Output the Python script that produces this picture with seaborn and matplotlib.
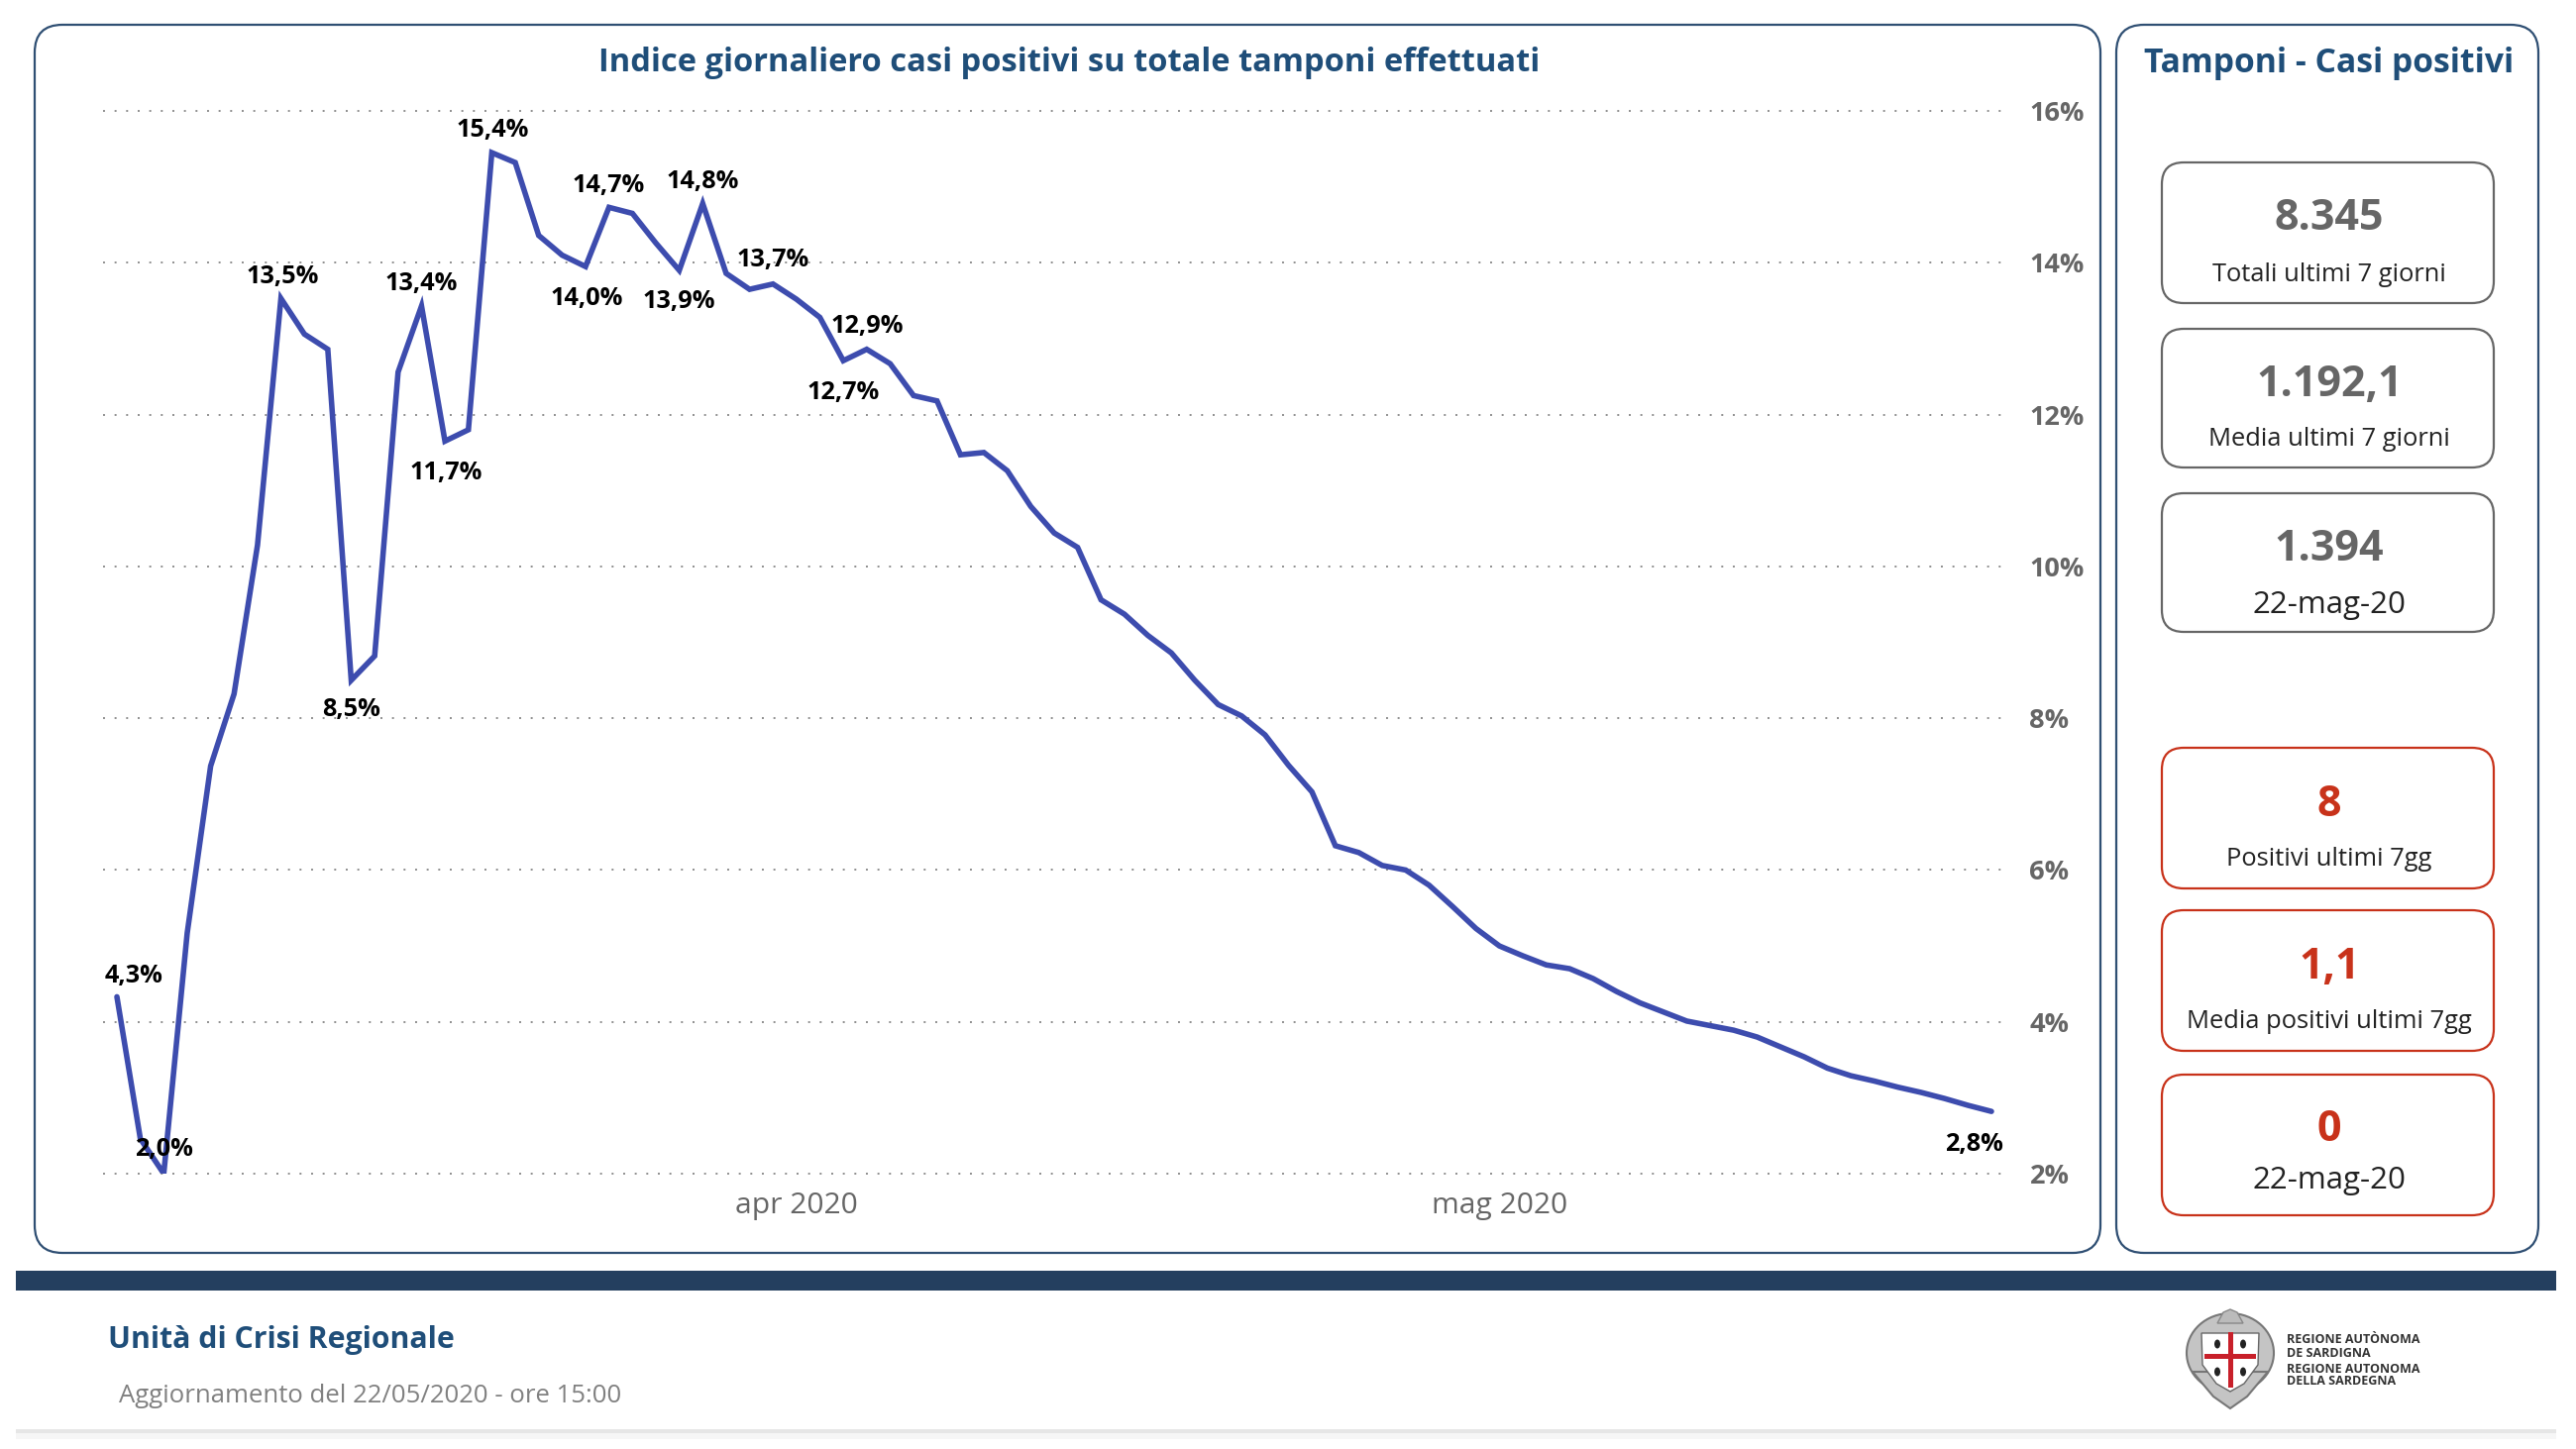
"""
Sardegna dashboard: daily index of positive cases over total swabs.
"""
import matplotlib
matplotlib.use('Agg')
import matplotlib.pyplot as plt
from matplotlib.patches import FancyBboxPatch, Rectangle, Ellipse, Polygon
import pandas as pd
import seaborn as sns

# ─── Data ───
first_day = '2020-03-03'
last_day = '2020-05-22'
pct_values = [
    4.33, 2.46, 2.00, 5.17, 7.37, 8.32, 10.28, 13.53, 13.06, 12.86,
    8.50, 8.82, 12.56, 13.43, 11.65, 11.80, 15.45, 15.32, 14.36, 14.10,
    13.95, 14.73, 14.65, 14.26, 13.90, 14.78, 13.86, 13.65, 13.72, 13.52,
    13.28, 12.71, 12.86, 12.67, 12.25, 12.18, 11.47, 11.50, 11.26, 10.79,
    10.44, 10.25, 9.56, 9.37, 9.09, 8.86, 8.50, 8.18, 8.03, 7.78,
    7.38, 7.03, 6.32, 6.23, 6.06, 6.00, 5.80, 5.52, 5.23, 5.00,
    4.87, 4.75, 4.70, 4.57, 4.40, 4.25, 4.13, 4.01, 3.95, 3.89,
    3.80, 3.67, 3.54, 3.39, 3.29, 3.22, 3.14, 3.07, 2.99, 2.90, 2.82,
]
label_days = [0, 2, 7, 10, 13, 14, 16, 20, 21, 24, 25, 28, 31, 32, 80]
label_texts = ['4,3%', '2,0%', '13,5%', '8,5%', '13,4%', '11,7%', '15,4%', '14,0%',
               '14,7%', '13,9%', '14,8%', '13,7%', '12,7%', '12,9%', '2,8%']
y_ticks = [2, 4, 6, 8, 10, 12, 14, 16]
y_tick_labels = ['2%', '4%', '6%', '8%', '10%', '12%', '14%', '16%']
x_ticks = ['2020-04-01', '2020-05-01']
x_tick_labels = ['apr 2020', 'mag 2020']

title_main = 'Indice giornaliero casi positivi su totale tamponi effettuati'
title_side = 'Tamponi - Casi positivi'
grey_values = ['8.345', '1.192,1', '1.394']
grey_captions = ['Totali ultimi 7 giorni', 'Media ultimi 7 giorni', '22-mag-20']
red_values = ['8', '1,1', '0']
red_captions = ['Positivi ultimi 7gg', 'Media positivi ultimi 7gg', '22-mag-20']

# ─── Setup ───
sns.set_theme(style='white')
plt.rcParams['font.family'] = ['Open Sans', 'DejaVu Sans']

NAVY = '#1F4E79'
BORDER = '#2F4F73'
LINE = '#3D4CAE'
GREY = '#666666'
RED = '#C8321A'

dates = pd.date_range(first_day, last_day)
df = pd.DataFrame({'day': dates, 'pct': pct_values})

fig = plt.figure(figsize=(26, 14.63), dpi=100, facecolor='white')
W, H = 2600, 1463

# page layer in pixel coordinates
page = fig.add_axes([0, 0, 1, 1])
page.set_xlim(0, W)
page.set_ylim(H, 0)
page.axis('off')


def card(x0, y0, x1, y1, edge, radius, lw=1.6):
    page.add_patch(FancyBboxPatch((x0, y0), x1 - x0, y1 - y0,
                                  boxstyle=f'round,pad=0,rounding_size={radius}',
                                  fc='white', ec=edge, lw=lw))


def caption_size(cap):
    # the date captions are set larger in the reference
    return 22.5 if 'mag' in cap else 18.4


card(35, 25, 2120, 1265, BORDER, 28)
card(2136, 25, 2562, 1265, BORDER, 28)

page.text(1079, 64, title_main, ha='center', va='center', fontsize=23.5,
          fontweight='bold', color=NAVY)
page.text(2351, 64, title_side, ha='center', va='center', fontsize=24.2,
          fontweight='bold', color=NAVY)

grey_boxes = [(164, 306, 220, 278), (332, 472, 388, 444), (498, 638, 554, 611)]
for (y0, y1, yv, yc), val, cap in zip(grey_boxes, grey_values, grey_captions):
    card(2182, y0, 2517, y1, GREY, 22)
    page.text(2351, yv, val, ha='center', va='center', fontsize=31,
              fontweight='bold', color=GREY)
    page.text(2351, yc, cap, ha='center', va='center', fontsize=caption_size(cap), color='#222222')

red_boxes = [(755, 897, 812, 868), (919, 1061, 976, 1031), (1085, 1227, 1140, 1192)]
for (y0, y1, yv, yc), val, cap in zip(red_boxes, red_values, red_captions):
    card(2182, y0, 2517, y1, RED, 22)
    page.text(2351, yv, val, ha='center', va='center', fontsize=31,
              fontweight='bold', color=RED)
    page.text(2351, yc, cap, ha='center', va='center', fontsize=caption_size(cap), color='#222222')

# footer
page.add_patch(Rectangle((16, 1283), 2564, 20, fc='#243F5F', ec='none'))
page.add_patch(Rectangle((16, 1443), 2564, 4, fc='#E6E6E6', ec='none'))
page.add_patch(Rectangle((16, 1447), 2564, 6, fc='#F6F6F6', ec='none'))
page.text(109, 1353, 'Unità di Crisi Regionale', ha='left', va='center', fontsize=21.8,
          fontweight='bold', color=NAVY)
page.text(120, 1409, 'Aggiornamento del 22/05/2020 - ore 15:00', ha='left', va='center',
          fontsize=18.5, color='#808080')

# coat of arms, drawn roughly
page.add_patch(Ellipse((2251, 1366), 88, 80, fc='#C4C4C4', ec='#777777', lw=1.5))
page.add_patch(Polygon([(2213, 1385), (2289, 1385), (2268, 1410), (2251, 1422), (2234, 1410)],
                       fc='#C4C4C4', ec='#777777', lw=1.5))
page.add_patch(Polygon([(2238, 1336), (2244, 1325), (2251, 1322), (2258, 1325), (2264, 1336)],
                       fc='#BBBBBB', ec='#888888', lw=1))
page.add_patch(Polygon([(2222, 1346), (2280, 1346), (2279, 1378), (2265, 1397), (2251, 1405),
                        (2237, 1397), (2223, 1378)], fc='white', ec='#666666', lw=1))
page.add_patch(Rectangle((2249, 1345), 5, 56, fc='#C8202A', ec='none'))
page.add_patch(Rectangle((2225, 1367), 52, 5, fc='#C8202A', ec='none'))
for mx, my in [(2238, 1357), (2264, 1357), (2238, 1385), (2264, 1385)]:
    page.add_patch(Ellipse((mx, my), 6, 9, fc='#222222', ec='none'))
logo_lines = ['REGIONE AUTÒNOMA', 'DE SARDIGNA', 'REGIONE AUTONOMA', 'DELLA SARDEGNA']
for txt, ly in zip(logo_lines, [1353, 1366, 1383, 1395]):
    page.text(2308, ly, txt, ha='left', va='center', fontsize=9,
              fontweight='bold', color='#333333')

# ─── Chart ───
ax_left, ax_right, ax_top, ax_bottom = 104, 2029, 112, 1185
ax = fig.add_axes([ax_left / W, 1 - ax_bottom / H, (ax_right - ax_left) / W, (ax_bottom - ax_top) / H])
ax.patch.set_alpha(0)

sns.lineplot(data=df, x='day', y='pct', ax=ax, color=LINE, linewidth=4.0,
             solid_joinstyle='miter', errorbar=None)

day_px = 23.65
ax.set_xlim(dates[0] - pd.Timedelta(days=14 / day_px), dates[-1] + pd.Timedelta(days=19 / day_px))
ax.set_ylim(2, 16)
ax.set_xlabel('')
ax.set_ylabel('')
sns.despine(ax=ax, left=True, bottom=True, right=True, top=True)

ax.yaxis.tick_right()
ax.set_yticks(y_ticks)
ax.set_yticklabels(y_tick_labels, fontsize=19.5, fontweight='bold', color=GREY)
ax.set_xticks(pd.to_datetime(x_ticks))
ax.set_xticklabels(x_tick_labels, fontsize=21.6, color=GREY)
ax.tick_params(axis='both', length=0)
ax.tick_params(axis='y', pad=14)
ax.tick_params(axis='x', pad=13)

ax.yaxis.grid(True, color='#8E8E8E', linewidth=1.4, linestyle=(0, (1, 5)), clip_on=False)
ax.xaxis.grid(False)
ax.set_axisbelow(True)

# label offsets in pixels from the point (up is positive)
label_offsets = [(17, 21), (0, 24), (2, 22), (0, -30), (0, 22), (1, -32), (1, 23), (1, -32),
                 (0, 22), (0, -32), (0, 22), (0, 24), (0, -32), (0, 23), (-18, -33)]
for day, txt, off in zip(label_days, label_texts, label_offsets):
    ax.annotate(txt, (dates[day], pct_values[day]), xytext=off, textcoords='offset pixels',
                ha='center', va='center', fontsize=18.2, fontweight='bold', color='black',
                annotation_clip=False)

fig.savefig('out.png', dpi=100, facecolor='white')
plt.close(fig)
